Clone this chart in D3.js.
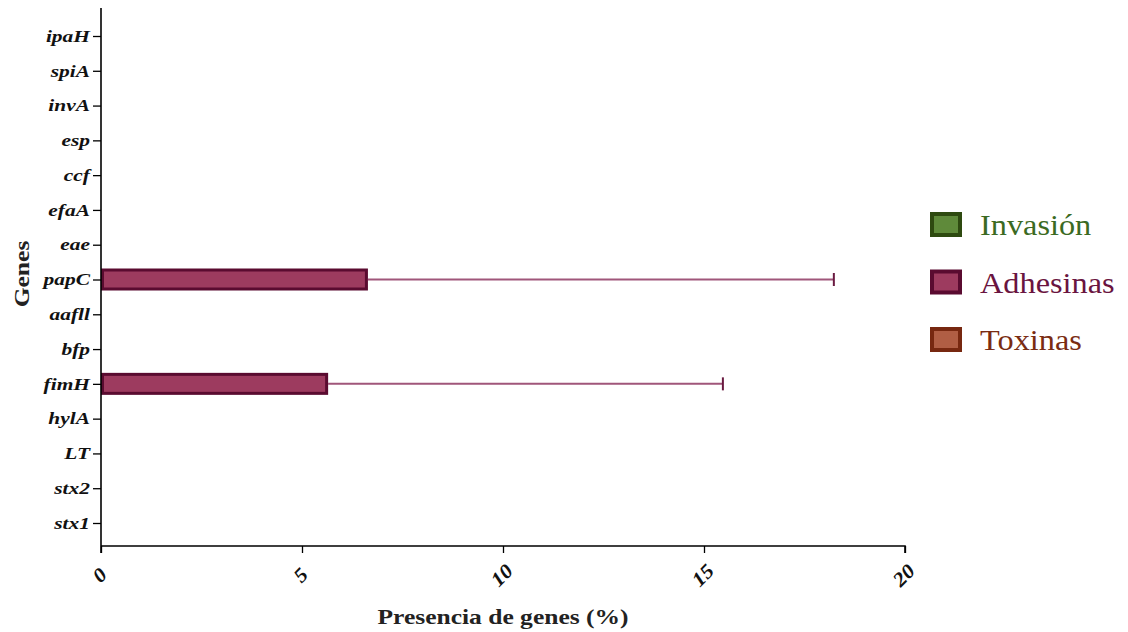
<!DOCTYPE html>
<html>
<head>
<meta charset="utf-8">
<script src="https://cdn.jsdelivr.net/npm/d3@7"></script>
<style>
  html, body { margin: 0; padding: 0; background: #ffffff; }
  svg { display: block; }
</style>
</head>
<body>
<svg id="chart" width="1128" height="632"></svg>
<script>
// Genes, top to bottom as listed on the axis
const genes = ["ipaH", "spiA", "invA", "esp", "ccf", "efaA", "eae", "papC",
               "aafll", "bfp", "fimH", "hylA", "LT", "stx2", "stx1"];
// Virulence group of each gene
const groups = ["Invasión", "Invasión", "Invasión", "Invasión", "Invasión",
                "Adhesinas", "Adhesinas", "Adhesinas", "Adhesinas", "Adhesinas", "Adhesinas",
                "Toxinas", "Toxinas", "Toxinas", "Toxinas"];
// Presence of each gene (%) and its standard deviation
const presence = [0, 0, 0, 0, 0, 0, 0, 6.64, 0, 0, 5.65, 0, 0, 0, 0];
const deviation = [0, 0, 0, 0, 0, 0, 0, 11.59, 0, 0, 9.82, 0, 0, 0, 0];
const xTicks = [0, 5, 10, 15, 20];

const legendNames = ["Invasión", "Adhesinas", "Toxinas"];
const fillColors = { "Invasión": "#5f8a3a", "Adhesinas": "#9d3b5f", "Toxinas": "#b05e44" };
const strokeColors = { "Invasión": "#2e4a10", "Adhesinas": "#5a0b30", "Toxinas": "#772810" };
const textColors = { "Invasión": "#3b6a22", "Adhesinas": "#6a1440", "Toxinas": "#7a2c12" };

const svg = d3.select("#chart");
const serif = "'Liberation Serif', 'Times New Roman', serif";

const x = d3.scaleLinear().domain([0, 20]).range([101, 905]);
const y = d3.scalePoint().domain(genes).range([36, 523]);
const barH = 22;
const axisY = 546;

// bars
const rows = genes.map((g, i) => ({ gene: g, group: groups[i], value: presence[i], sd: deviation[i] }));
const shown = rows.filter(d => d.value > 0);

// error bars (drawn first so the bar covers the start)
const err = svg.append("g");
err.selectAll("line.whisker").data(shown).join("line")
  .attr("x1", d => x(d.value)).attr("x2", d => x(d.value + d.sd))
  .attr("y1", d => y(d.gene)).attr("y2", d => y(d.gene))
  .attr("stroke", "#a0567a").attr("stroke-width", 2);
err.selectAll("line.cap").data(shown).join("line")
  .attr("x1", d => x(d.value + d.sd)).attr("x2", d => x(d.value + d.sd))
  .attr("y1", d => y(d.gene) - 6.5).attr("y2", d => y(d.gene) + 6.5)
  .attr("stroke", "#6a1a40").attr("stroke-width", 2);

svg.append("g").selectAll("rect").data(shown).join("rect")
  .attr("x", x(0) + 1.5)
  .attr("y", d => y(d.gene) - barH / 2 + 1.5)
  .attr("width", d => x(d.value) - x(0) - 3)
  .attr("height", barH - 3)
  .attr("fill", d => fillColors[d.group])
  .attr("stroke", d => strokeColors[d.group])
  .attr("stroke-width", 3);

// y axis
const yAxis = svg.append("g")
  .attr("transform", `translate(${x(0)},0)`)
  .call(d3.axisLeft(y).tickSize(8).tickPadding(3));
yAxis.select(".domain").remove();
yAxis.selectAll(".tick line").attr("stroke", "#000").attr("stroke-width", 1.3);
yAxis.selectAll(".tick text")
  .attr("font-family", serif).attr("font-size", 16.5)
  .attr("font-weight", "bold").attr("font-style", "italic")
  .attr("fill", "#111")
  .attr("x", -11 / 1.3)
  .attr("transform", "scale(1.3,1)");
svg.append("line")
  .attr("x1", x(0)).attr("x2", x(0)).attr("y1", 8).attr("y2", axisY + 7)
  .attr("stroke", "#000").attr("stroke-width", 1.6);

// x axis
const xAxis = svg.append("g")
  .attr("transform", `translate(0,${axisY})`)
  .call(d3.axisBottom(x).tickValues(xTicks).tickSize(7).tickFormat(d3.format("d")));
xAxis.select(".domain").attr("d", `M${x(0)},0H${x(20)}V7`).attr("stroke", "#000").attr("stroke-width", 1.6);
xAxis.selectAll(".tick line").attr("stroke", "#000").attr("stroke-width", 1.3);
xAxis.selectAll(".tick text")
  .attr("font-family", serif).attr("font-size", 20)
  .attr("font-weight", "bold").attr("font-style", "italic")
  .attr("fill", "#111")
  .attr("y", 0).attr("dy", "0.35em")
  .attr("text-anchor", "middle")
  .attr("transform", "translate(-2,29) rotate(-45) scale(1.1,1)");

// axis titles
svg.append("text")
  .attr("transform", `translate(${(x(0) + x(20)) / 2},624) scale(1.16,1)`)
  .attr("text-anchor", "middle")
  .attr("font-family", serif).attr("font-size", 22).attr("font-weight", "bold")
  .attr("fill", "#222")
  .text("Presencia de genes (%)");
svg.append("text")
  .attr("transform", "translate(29,274) rotate(-90) scale(1.16,1)")
  .attr("text-anchor", "middle")
  .attr("font-family", serif).attr("font-size", 22).attr("font-weight", "bold")
  .attr("fill", "#222")
  .text("Genes");

// legend
const legend = svg.append("g").selectAll("g").data(legendNames).join("g")
  .attr("transform", (d, i) => `translate(930,${212 + i * 57.5})`);
legend.append("rect")
  .attr("x", 2).attr("y", 2).attr("width", 28).attr("height", 21)
  .attr("fill", d => fillColors[d])
  .attr("stroke", d => strokeColors[d])
  .attr("stroke-width", 4);
legend.append("text")
  .attr("transform", "translate(50,23) scale(1.06,1)")
  .attr("font-family", serif).attr("font-size", 30.5)
  .attr("fill", d => textColors[d])
  .text(d => d);
</script>
</body>
</html>
